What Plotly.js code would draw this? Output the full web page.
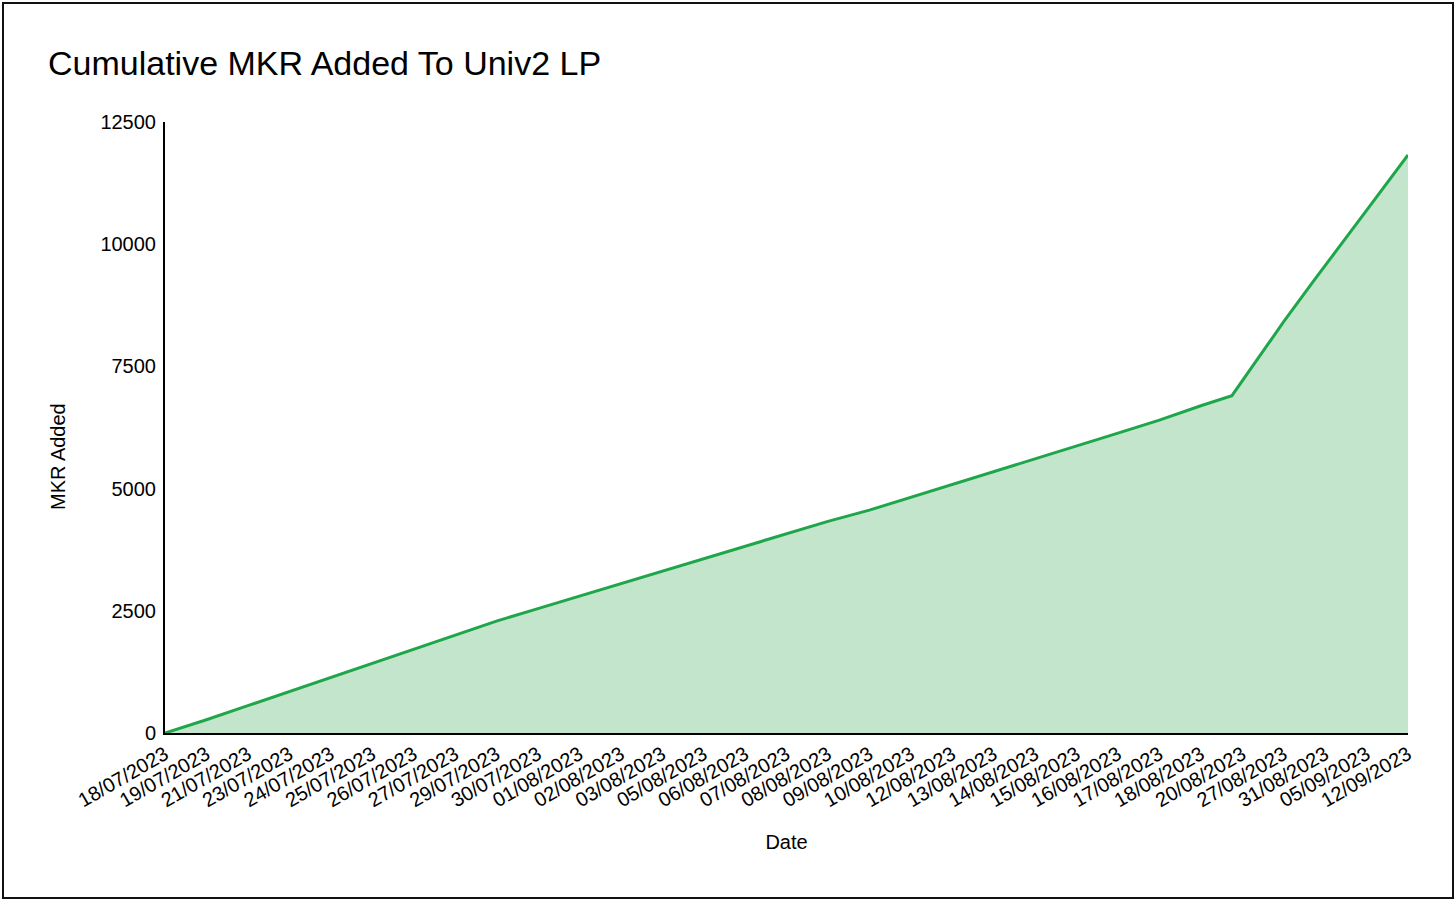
<!DOCTYPE html>
<html>
<head>
<meta charset="utf-8">
<script src="https://cdn.plot.ly/plotly-3.0.1.min.js"></script>
<style>
html,body{margin:0;padding:0;background:#fff}
#chart{width:1456px;height:902px}
#frame{position:absolute;left:2px;top:2px;width:1448px;height:893px;border:2px solid #111;pointer-events:none}
</style>
</head>
<body>
<div id="chart"></div>
<div id="frame"></div>
<script>
// Tick labels (every 4th row of the underlying sheet)
const dateLabels = ["18/07/2023","19/07/2023","21/07/2023","23/07/2023","24/07/2023","25/07/2023",
  "26/07/2023","27/07/2023","29/07/2023","30/07/2023","01/08/2023","02/08/2023","03/08/2023",
  "05/08/2023","06/08/2023","07/08/2023","08/08/2023","09/08/2023","10/08/2023","12/08/2023",
  "13/08/2023","14/08/2023","15/08/2023","16/08/2023","17/08/2023","18/08/2023","20/08/2023",
  "27/08/2023","31/08/2023","05/09/2023","12/09/2023"];
const labelRows = [0,4,8,12,16,20,24,28,32,36,40,44,48,52,56,60,64,68,72,76,80,84,88,92,96,100,104,108,112,116,120];

// Data rows (row index in sheet) and cumulative MKR added
const rows = [0,4,8,12,16,20,24,28,32,36,40,44,48,52,56,60,64,68,72,76,80,84,88,92,96,100,103,104,108,111,112,116,120];
const cumulativeMKR = [0,270,560,850,1140,1430,1720,2000,2290,2545,2800,3055,3310,3565,3820,4075,4330,
  4560,4825,5090,5355,5620,5880,6135,6400,6695,6900,7200,8415,9280,9560,10690,11825];

const yTicks = [0,2500,5000,7500,10000,12500];

const FONT = "Liberation Sans, Arial, Helvetica, sans-serif";

const trace = {
  x: rows,
  y: cumulativeMKR,
  type: "scatter",
  mode: "lines",
  fill: "tozeroy",
  fillcolor: "#c3e5cb",
  line: {color: "#1fa64a", width: 3},
  hoverinfo: "skip"
};

const layout = {
  width: 1456,
  height: 902,
  paper_bgcolor: "#fff",
  plot_bgcolor: "#fff",
  showlegend: false,
  margin: {l: 165, r: 48, t: 122, b: 169},
  font: {family: FONT, color: "#000", size: 20},
  title: {
    text: "Cumulative MKR Added To Univ2 LP",
    font: {family: FONT, size: 34, color: "#000"},
    xref: "container", yref: "container",
    x: 48/1456, xanchor: "left",
    y: 1 - 63/902, yanchor: "middle"
  },
  xaxis: {
    range: [0, 120],
    tickvals: labelRows,
    ticktext: dateLabels,
    tickangle: -30,
    tickfont: {size: 20, color: "#000"},
    showline: true, linecolor: "#000", linewidth: 2,
    showgrid: false, zeroline: false, ticks: "",
    title: {text: "Date", font: {size: 20, color: "#000"}, standoff: 25}
  },
  yaxis: {
    range: [0, 12500],
    tickvals: yTicks,
    ticktext: yTicks.map(String),
    tickfont: {size: 20, color: "#000"},
    showline: true, linecolor: "#000", linewidth: 2,
    showgrid: false, zeroline: false, ticks: "",
    ticklabelstandoff: 3
  },
  annotations: [{
    text: "MKR Added",
    textangle: -90,
    xref: "paper", yref: "paper",
    x: (58 - 165) / 1243, xanchor: "center",
    y: (733 - 457) / 611, yanchor: "middle",
    showarrow: false,
    font: {family: FONT, size: 20, color: "#000"}
  }]
};

Plotly.newPlot("chart", [trace], layout, {displayModeBar: false, staticPlot: true});
</script>
</body>
</html>
